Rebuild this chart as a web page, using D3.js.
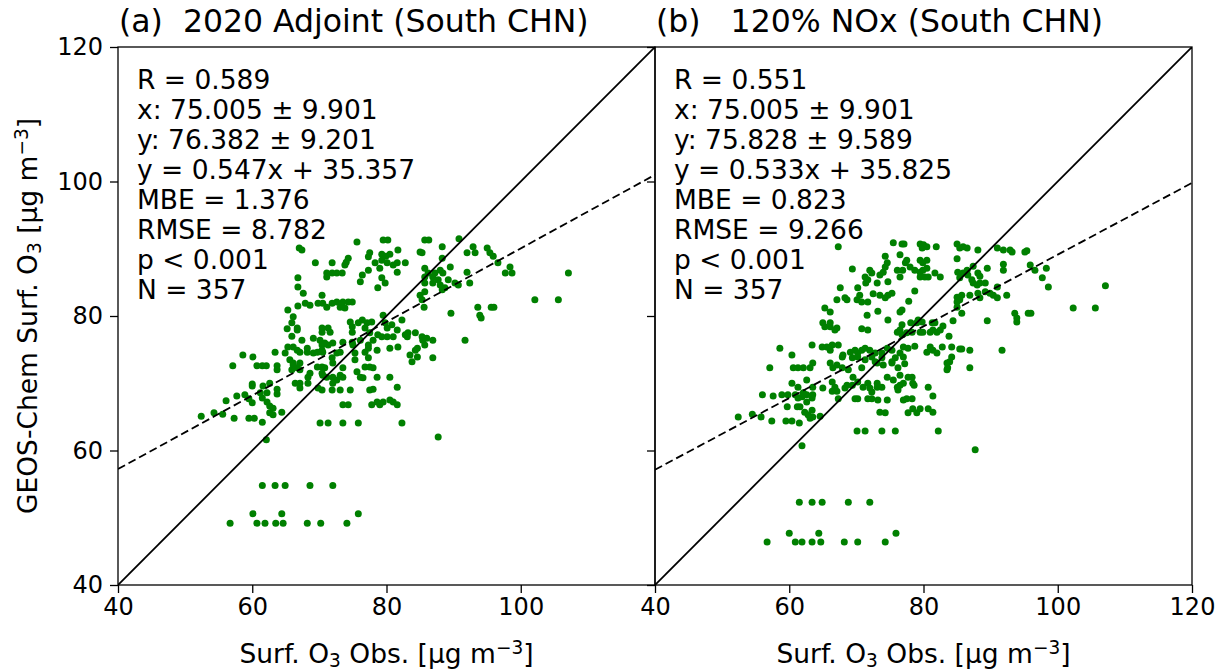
<!DOCTYPE html>
<html>
<head>
<meta charset="utf-8">
<script src="https://cdn.jsdelivr.net/npm/d3@7"></script>
<style>
  body { margin: 0; background: #fff; }
  text { font-family: "DejaVu Sans", sans-serif; fill: #000; white-space: pre; }
</style>
</head>
<body>
<div id="chart"></div>
<script>
// ---- data ----
const xTicks = [40, 60, 80, 100, 120];
const yTicks = [40, 60, 80, 100, 120];
const titles = ["(a)  2020 Adjoint (South CHN)", "(b)   120% NOx (South CHN)"];
const fitSlope = [0.547, 0.533];
const fitIntercept = [35.357, 35.825];

const statsA = ["R = 0.589", "x: 75.005 \u00b1 9.901", "y: 76.382 \u00b1 9.201", "y = 0.547x + 35.357",
  "MBE = 1.376", "RMSE = 8.782", "p < 0.001", "N = 357"];
const statsB = ["R = 0.551", "x: 75.005 \u00b1 9.901", "y: 75.828 \u00b1 9.589", "y = 0.533x + 35.825",
  "MBE = 0.823", "RMSE = 9.266", "p < 0.001", "N = 357"];

// [obs, model] pairs
const pointsA = [
  [67.0,90.1],[66.8,84.3],[65.3,80.9],[66.1,79.9],[66.8,81.5],[65.9,79.0],[65.2,78.1],[66.7,77.9],[65.9,77.0],[65.3,75.4],
  [66.1,75.4],[66.7,74.9],[64.9,74.5],[63.4,74.6],[58.6,74.2],[60.1,73.9],[57.1,72.6],[60.7,72.6],[61.5,72.6],[62.1,72.6],
  [63.7,72.6],[63.7,72.0],[66.1,73.0],[67.1,72.0],[60.0,69.9],[60.0,69.6],[61.6,69.6],[62.6,70.0],[63.7,69.1],[63.7,68.4],
  [61.2,68.6],[62.2,68.6],[61.5,67.8],[62.2,67.2],[57.7,68.1],[58.9,68.3],[59.5,67.7],[60.0,67.1],[56.1,67.4],[62.6,66.6],
  [63.1,66.3],[62.6,65.6],[63.1,65.3],[64.4,65.7],[52.4,65.1],[54.3,65.6],[55.6,65.4],[57.3,64.8],[59.5,64.8],[60.3,64.8],
  [61.5,64.2],[62.1,61.6],[61.5,54.8],[63.4,54.8],[64.9,54.8],[60.1,50.6],[64.4,50.6],[56.7,49.2],[60.7,49.2],[61.9,49.2],
  [63.5,49.2],[64.6,49.2],[68.6,54.8],[72.0,54.8],[75.8,50.6],[68.2,49.2],[70.2,49.2],[74.1,49.2],
  [68.2,74.6],[69.1,74.5],[70.5,74.6],[65.6,73.5],[66.1,72.7],[66.7,72.3],[67.1,73.0],[65.9,72.0],[68.6,71.5],[68.3,70.9],
  [69.7,72.4],[70.4,72.4],[70.8,72.3],[70.5,71.2],[70.4,71.5],[71.1,70.9],[71.9,73.8],[72.0,73.0],[73.1,74.6],[73.5,72.3],
  [72.0,70.9],[72.6,70.5],[73.1,71.2],[73.5,70.9],[72.0,70.0],[75.3,74.5],[76.8,74.6],[75.3,73.5],[77.3,73.8],[75.6,71.7],
  [76.1,70.9],[76.5,70.8],[76.8,72.4],[77.5,72.4],[78.0,72.3],[78.6,70.9],[80.5,70.9],[81.6,69.4],[83.5,74.2],[83.8,73.2],
  [84.3,74.9],[66.4,70.0],[67.1,70.0],[68.3,70.0],[67.1,69.3],[69.8,69.3],[70.4,69.0],[71.9,69.0],[73.1,69.0],[74.6,69.0],
  [77.5,69.0],[78.0,69.1],[73.5,66.8],[74.3,66.8],[77.8,66.8],[78.6,67.2],[79.0,66.8],[79.5,67.2],[80.5,67.5],[81.0,67.2],
  [81.6,66.8],[70.1,64.1],[71.3,64.1],[73.5,64.1],[75.8,64.1],[82.3,64.1],[87.7,62.0],
  [75.6,91.0],[79.5,91.3],[80.2,91.3],[85.7,91.3],[86.3,91.3],[67.4,89.8],[81.7,89.8],[77.5,89.4],[77.3,88.8],[79.3,89.2],
  [79.9,88.9],[80.5,89.2],[74.3,88.6],[74.0,88.0],[73.8,87.6],[71.9,87.9],[69.4,87.9],[78.3,87.9],[79.3,88.3],[80.1,87.9],
  [81.0,87.6],[81.6,87.9],[82.8,87.9],[77.3,86.8],[79.0,87.1],[81.6,86.5],[71.1,86.4],[71.9,86.4],[72.6,86.4],[73.4,86.4],
  [71.1,85.8],[76.4,86.1],[66.8,85.7],[85.7,87.1],[86.2,86.4],[76.1,85.1],[79.3,85.7],[79.8,84.9],[78.7,84.2],[67.6,83.4],
  [70.4,83.1],[67.9,81.9],[68.6,81.6],[69.8,81.9],[70.5,81.9],[71.1,81.3],[71.9,81.9],[72.6,82.1],[73.5,82.1],[74.3,82.1],
  [74.9,82.1],[73.1,81.3],[73.8,81.2],[74.6,79.1],[76.4,79.4],[77.1,79.0],[77.8,79.1],[79.5,80.1],[79.8,79.0],[80.8,78.7],
  [80.1,78.2],[81.6,77.9],[82.3,79.4],[66.7,78.2],[70.4,78.2],[71.3,78.2],[71.6,77.6],[70.4,77.6],[74.9,78.4],[75.8,79.0],
  [76.8,78.2],[74.9,77.6],[77.5,77.5],[78.7,77.2],[79.3,76.9],[80.1,76.9],[81.0,76.9],[82.8,77.2],[83.2,77.5],[84.3,77.5],
  [85.3,76.9],[86.0,76.7],[67.4,76.4],[69.1,76.7],[70.1,76.4],[70.4,75.7],[70.8,76.0],[71.3,75.7],[72.0,76.0],[73.5,76.1],
  [74.9,76.1],[75.0,75.7],[76.1,76.4],[77.3,75.7],[67.1,74.6],[68.2,75.2],[69.7,74.6],[70.4,74.9],[72.6,74.5],[78.0,76.4],
  [77.3,75.2],[78.6,74.9],[80.5,75.2],[81.7,75.4],[83.1,76.9],[84.6,75.2],[85.7,75.7],[84.6,73.9],
  [90.8,91.5],[88.3,90.3],[92.9,90.3],[93.2,89.4],[92.0,89.4],[95.0,90.1],[95.4,89.4],[95.9,88.9],[85.0,89.5],[85.3,89.4],
  [88.3,88.6],[96.6,87.9],[98.4,87.3],[97.7,86.4],[98.7,86.4],[107.1,86.4],[87.2,86.4],[88.0,86.8],[88.4,86.4],[89.5,87.3],
  [92.0,86.5],[85.7,85.8],[86.9,85.8],[87.7,85.4],[89.2,85.4],[85.7,84.9],[86.9,84.9],[88.0,84.6],[88.7,84.2],[90.2,84.9],
  [90.7,84.6],[92.4,84.9],[85.7,83.6],[85.0,83.1],[88.3,83.9],[85.3,82.4],[102.1,82.4],[105.6,82.4],[85.6,81.3],[89.6,80.4],
  [93.6,81.3],[95.6,81.3],[96.0,81.3],[93.9,80.1],[94.1,79.7],[85.4,76.4],[86.9,76.4],[91.7,76.4],[86.9,73.8]
];

const pointsB = [
  [67.3,90.3],[75.5,90.9],[76.8,90.7],[74.3,88.9],[69.4,87.0],[71.3,85.8],[72.0,86.8],[72.3,86.4],[74.6,87.9],[74.3,87.3],
  [74.0,86.5],[73.5,86.1],[76.1,86.8],[76.5,85.8],[71.4,84.9],[71.7,85.4],[73.1,84.9],[74.7,85.1],[67.6,84.2],[70.2,84.2],
  [67.1,82.4],[68.3,82.7],[68.6,82.4],[70.1,82.4],[70.5,83.1],[70.8,82.1],[71.7,82.1],[72.5,83.3],[73.5,83.1],[74.3,82.7],
  [74.7,83.1],[75.3,83.4],[76.8,80.9],[65.3,81.2],[66.1,80.6],[73.2,80.7],[71.6,80.1],[74.7,79.4],[65.0,79.0],[65.3,78.4],
  [66.1,79.0],[66.1,78.4],[66.8,77.9],[67.1,78.2],[70.8,78.1],[71.7,77.9],[76.1,77.6],[76.8,77.2],[76.8,78.7],[58.6,75.2],
  [60.4,74.2],[63.4,75.7],[64.9,75.4],[65.6,75.4],[66.1,74.9],[66.4,75.7],[67.3,75.7],[67.9,73.9],[68.0,74.2],[69.1,74.6],
  [69.8,74.9],[70.2,74.5],[70.8,74.9],[71.3,75.2],[72.0,74.9],[72.8,74.5],[73.8,74.5],[74.6,75.2],[75.3,74.9],[69.4,73.8],
  [70.2,73.9],[71.3,73.5],[72.3,73.9],[72.8,73.2],[73.8,73.8],[75.3,73.2],[75.8,73.8],[57.1,72.3],[60.6,72.3],[61.3,72.3],
  [62.1,72.3],[63.1,72.3],[63.5,73.0],[66.1,73.0],[66.5,72.3],[67.1,72.7],[67.9,72.3],[68.8,72.0],[70.8,72.3],[73.1,73.0],
  [74.0,72.7],[75.3,73.0],[76.2,72.3],[60.4,70.0],[61.3,69.4],[62.6,70.5],[63.5,69.4],[65.0,69.3],[66.4,70.2],[66.8,69.4],
  [68.6,69.7],[69.5,70.9],[70.2,70.2],[71.0,69.4],[71.7,70.0],[73.1,70.0],[73.8,69.4],[74.6,70.9],[75.5,70.5],[76.1,69.4],
  [77.0,70.0],[56.0,68.3],[57.6,68.1],[58.9,68.3],[59.8,68.3],[60.9,68.3],[61.3,67.8],[61.9,68.0],[62.6,68.3],[63.4,67.8],
  [63.5,68.3],[62.1,68.6],[66.4,68.8],[67.1,68.8],[68.3,69.3],[69.4,69.7],[72.0,69.3],[72.3,68.7],[73.1,69.4],[76.2,69.0],
  [67.3,67.7],[69.8,67.7],[70.2,67.7],[71.7,67.7],[72.3,67.7],[73.2,67.5],[74.6,67.5],[77.0,67.5],[59.7,66.5],[61.2,66.5],
  [61.6,66.5],[62.6,67.2],[62.3,65.7],[62.8,65.3],[63.4,66.0],[63.1,64.8],[63.5,65.0],[64.6,65.1],[52.4,65.0],[54.5,65.4],
  [55.8,65.0],[57.4,64.4],[59.5,64.4],[60.4,64.4],[61.5,64.1],[73.5,65.7],[74.3,65.6],[70.1,62.9],[71.3,62.9],[73.8,62.9],
  [75.8,62.9],[61.9,60.7],[61.5,52.3],[63.4,52.3],[64.9,52.3],[68.8,52.3],[72.0,52.3],[60.0,47.7],[64.4,47.7],[75.9,47.7],
  [56.7,46.4],[60.9,46.4],[61.9,46.4],[63.4,46.4],[64.7,46.4],[68.2,46.4],[70.2,46.4],[74.3,46.4],
  [77.1,90.7],[79.5,90.7],[79.8,90.1],[80.5,90.3],[80.0,90.6],[81.9,90.3],[85.0,90.7],[85.4,90.1],[85.9,90.3],[86.5,90.1],
  [88.1,89.8],[91.0,90.1],[91.9,89.8],[92.9,89.8],[93.2,89.5],[95.1,89.5],[95.4,89.7],[76.5,89.1],[77.5,88.3],[77.3,87.9],
  [78.0,87.3],[78.7,86.8],[79.5,86.5],[79.9,86.8],[80.5,87.1],[79.5,85.8],[80.2,85.8],[80.7,85.8],[76.9,86.8],[79.5,88.3],
  [79.9,87.9],[80.5,88.3],[81.7,86.4],[82.5,85.8],[85.0,88.5],[85.1,86.5],[85.9,86.4],[85.4,85.7],[86.5,86.8],[86.6,86.1],
  [87.4,87.4],[88.1,86.4],[88.4,85.9],[87.2,85.4],[87.4,84.9],[88.0,84.6],[88.4,84.9],[89.2,84.9],[89.5,87.1],[91.9,87.7],
  [91.9,86.8],[95.9,87.6],[96.6,86.8],[98.3,87.1],[97.7,85.7],[98.6,84.3],[107.1,84.5],[78.7,83.7],[77.8,82.2],[76.5,80.6],
  [85.0,82.8],[85.4,82.4],[85.0,82.1],[85.7,83.1],[86.9,83.1],[88.1,83.4],[88.4,82.7],[89.2,83.6],[89.9,83.4],[90.4,83.1],
  [91.0,84.3],[91.0,82.7],[92.4,83.1],[85.0,81.3],[85.7,80.4],[93.6,80.4],[93.9,79.7],[93.9,79.1],[95.6,80.4],[96.0,80.4],
  [102.3,81.2],[105.6,81.2],[89.5,79.3],[84.4,79.3],[82.9,78.5],[79.2,79.4],[79.0,79.0],[76.5,77.9],[77.5,77.5],[78.3,77.6],
  [79.5,77.6],[79.9,77.6],[81.0,77.6],[81.4,77.9],[82.0,77.6],[82.5,77.9],[78.1,79.0],[79.8,79.1],[81.3,79.0],[81.7,79.0],
  [83.8,77.0],[77.0,75.4],[77.7,75.2],[78.7,75.5],[80.5,74.6],[81.0,75.4],[81.4,74.9],[82.0,74.5],[82.8,75.4],[84.2,75.4],
  [85.4,75.1],[85.7,75.1],[86.9,74.9],[91.7,74.9],[76.5,74.5],[77.0,73.9],[84.2,73.9],[83.9,73.2],[83.5,73.0],[83.6,72.3],
  [83.5,72.0],[77.2,72.9],[86.9,72.3],[76.5,71.2],[77.7,70.9],[78.3,70.9],[78.4,70.0],[76.5,69.7],[80.7,69.4],[78.6,69.7],
  [81.4,68.1],[77.5,67.7],[78.3,67.7],[77.7,65.6],[78.4,66.2],[79.0,65.6],[79.5,66.2],[80.7,66.2],[81.4,65.7],[82.2,62.9],
  [87.7,60.1]
];

// ---- layout ----
const width = 1228, height = 672;
const margin = { top: 47, left: 118 };
const panelW = 537, panelH = 538;

const svg = d3.select("#chart").append("svg")
  .attr("width", width)
  .attr("height", height);

const y = d3.scaleLinear().domain([40, 120]).range([margin.top + panelH, margin.top]);

const panels = [
  { points: pointsA, stats: statsA },
  { points: pointsB, stats: statsB }
];

// label with subscript O3 and superscript -3
function unitLabel(sel, prefix, suffix) {
  sel.append("tspan").text(prefix + "O");
  sel.append("tspan").attr("baseline-shift", "-22%").attr("font-size", "0.7em").text("3");
  sel.append("tspan").text(suffix + " [\u03bcg m");
  sel.append("tspan").attr("baseline-shift", "45%").attr("font-size", "0.7em").text("\u22123");
  sel.append("tspan").text("]");
}

panels.forEach(function(p, i) {
  const x0 = margin.left + i * panelW;
  const x = d3.scaleLinear().domain([40, 120]).range([x0, x0 + panelW]);
  const g = svg.append("g");

  g.append("clipPath").attr("id", `clip${i}`)
    .append("rect")
    .attr("x", x0).attr("y", margin.top)
    .attr("width", panelW).attr("height", panelH);

  const plot = g.append("g").attr("clip-path", `url(#clip${i})`);

  plot.selectAll("circle")
    .data(p.points)
    .enter().append("circle")
    .attr("cx", function(d) { return x(d[0]); })
    .attr("cy", function(d) { return y(d[1]); })
    .attr("r", 3.5)
    .attr("fill", "#008000");

  // 1:1 line
  plot.append("line")
    .attr("x1", x(40)).attr("y1", y(40))
    .attr("x2", x(120)).attr("y2", y(120))
    .attr("stroke", "#000").attr("stroke-width", 1.8);

  // fit line
  const fit = function(v) { return fitSlope[i] * v + fitIntercept[i]; };
  plot.append("line")
    .attr("x1", x(40)).attr("y1", y(fit(40)))
    .attr("x2", x(120)).attr("y2", y(fit(120)))
    .attr("stroke", "#000").attr("stroke-width", 1.8)
    .attr("stroke-dasharray", "8,4");

  // axes
  const xAxis = g.append("g")
    .attr("transform", `translate(0,${margin.top + panelH})`)
    .call(d3.axisBottom(x)
      .tickValues(i === 0 ? xTicks.slice(0, 4) : xTicks)
      .tickSize(8).tickPadding(5).tickSizeOuter(0));

  const yAxis = g.append("g")
    .attr("transform", `translate(${x0},0)`)
    .call(d3.axisLeft(y)
      .tickValues(yTicks)
      .tickSize(8).tickPadding(7).tickSizeOuter(0)
      .tickFormat(i === 0 ? d3.format("d") : ""));

  [xAxis, yAxis].forEach(function(a) {
    a.select(".domain").remove();
    a.selectAll("line").attr("stroke", "#000").attr("stroke-width", 1.3);
    a.selectAll("text").attr("font-size", 24).attr("font-family", "DejaVu Sans").attr("fill", "#000");
  });

  g.append("rect")
    .attr("x", x0).attr("y", margin.top)
    .attr("width", panelW).attr("height", panelH)
    .attr("fill", "none").attr("stroke", "#000").attr("stroke-width", 1.3);

  // title
  g.append("text")
    .attr("x", x0 + 1).attr("y", 32)
    .attr("font-size", 31.5)
    .text(titles[i]);

  // stats block
  g.append("g").selectAll("text")
    .data(p.stats)
    .enter().append("text")
    .attr("x", x0 + 19)
    .attr("y", function(d, k) { return 89 + k * 30; })
    .attr("font-size", 26.5)
    .text(function(d) { return d; });

  // x label
  g.append("text")
    .attr("x", x0 + panelW / 2).attr("y", 663)
    .attr("text-anchor", "middle")
    .attr("font-size", 26.5)
    .call(unitLabel, "Surf. ", " Obs.");
});

svg.append("text")
  .attr("transform", `translate(37,${margin.top + panelH / 2}) rotate(-90)`)
  .attr("text-anchor", "middle")
  .attr("font-size", 26.5)
  .call(unitLabel, "GEOS-Chem Surf. ", "");
</script>
</body>
</html>
